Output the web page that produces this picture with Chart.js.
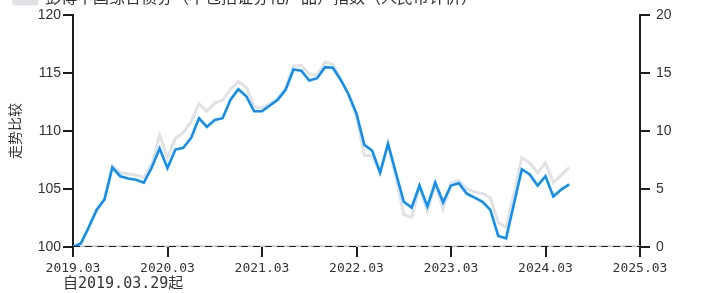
<!DOCTYPE html>
<html>
<head>
<meta charset="utf-8">
<script src="https://cdn.jsdelivr.net/npm/chart.js@4"></script>
<style>
  html, body { margin: 0; padding: 0; background: #fff; overflow: hidden; }
  #wrap { position: relative; width: 702px; height: 293px; overflow: hidden; }
  #wrap canvas { position: absolute; left: 0; top: -25px; }
</style>
</head>
<body>
<div id="wrap"><canvas id="trendChart" width="702" height="318"></canvas></div>
<script>
// monthly points, month 0 = 2019.03.29
const fundValues = [
  100, 100.3, 101.7, 103.2, 104.1, 106.85, 106.1, 105.9, 105.8, 105.55,
  106.85, 108.5, 106.8, 108.4, 108.55, 109.4, 111.1, 110.35, 110.95, 111.1,
  112.7, 113.6, 113.0, 111.7, 111.7, 112.2, 112.7, 113.55, 115.3, 115.2,
  114.35, 114.55, 115.5, 115.45, 114.4, 113.15, 111.5, 108.8, 108.3, 106.4,
  108.9, 106.4, 103.9, 103.4, 105.3, 103.5, 105.55, 103.85, 105.3, 105.5,
  104.6, 104.25, 103.9, 103.2, 100.95, 100.75, 103.75, 106.7, 106.25, 105.3,
  106.1, 104.35, 104.95, 105.4
];
const indexValues = [
  100, 100.3, 101.7, 103.2, 104.2, 107.0, 106.4, 106.3, 106.2, 106.0,
  107.15, 109.65, 107.7, 109.35, 109.85, 110.8, 112.35, 111.7, 112.4, 112.65,
  113.6, 114.25, 113.75, 112.1, 111.95, 112.35, 112.8, 113.75, 115.6, 115.65,
  114.9, 114.8, 115.95, 115.75, 114.45, 113.05, 111.2, 107.9, 107.85, 106.4,
  108.9, 106.0, 102.8, 102.55, 105.15, 103.1, 105.4, 103.3, 105.5, 105.75,
  105.0, 104.75, 104.6, 104.25, 102.1, 101.7, 104.6, 107.7, 107.25, 106.4,
  107.25, 105.55, 106.2, 106.85
];
const xTickLabels = ['2019.03', '2020.03', '2021.03', '2022.03', '2023.03', '2024.03', '2025.03'];
const leftTicks = [100, 105, 110, 115, 120];
const rightTicks = [0, 5, 10, 15, 20];
const fundName = '本基金';
const indexName = '彭博中国综合债券（不包括证券化产品）指数（人民币计价）';
const yTitle = '走势比较';
const footNote = '自2019.03.29起';
const baseValue = 100;
const monthsSpan = (xTickLabels.length - 1) * 12;

const toPoints = arr => arr.map((v, i) => ({ x: i, y: v }));
const ink = '#1e1e1e';
const monoFont = { family: "'DejaVu Sans Mono', monospace", size: 13 };
const numFont = { family: "'Liberation Sans', Arial, sans-serif", size: 14 };

const footNotePlugin = {
  id: 'footNote',
  afterDraw(chart) {
    const ctx = chart.ctx;
    ctx.save();
    ctx.font = "15px 'DejaVu Sans Mono', 'Noto Sans CJK SC', monospace";
    ctx.fillStyle = '#333';
    ctx.textBaseline = 'bottom';
    ctx.fillText(footNote, chart.chartArea.left - 10, chart.height - 1);
    ctx.restore();
  }
};

new Chart(document.getElementById('trendChart'), {
  type: 'line',
  data: {
    datasets: [
      {
        label: fundName,
        data: toPoints(fundValues),
        borderColor: '#0f90f0',
        borderWidth: 2.6,
        pointRadius: 0,
        order: 1
      },
      {
        label: indexName,
        data: toPoints(indexValues),
        borderColor: '#e2e2e6',
        backgroundColor: '#e2e2e6',
        borderWidth: 3,
        pointRadius: 0,
        order: 2
      },
      {
        label: 'base',
        data: [{ x: 0, y: baseValue }, { x: monthsSpan, y: baseValue }],
        borderColor: '#c4c4c8',
        borderWidth: 3,
        pointRadius: 0,
        order: 3
      },
      {
        label: 'baseDash',
        data: [{ x: 0, y: baseValue }, { x: monthsSpan, y: baseValue }],
        borderColor: ink,
        borderWidth: 2,
        borderDash: [7, 5],
        pointRadius: 0,
        order: 0
      }
    ]
  },
  options: {
    responsive: false,
    animation: false,
    layout: { padding: { top: 0, bottom: 0, left: 0, right: 0 } },
    plugins: {
      tooltip: { enabled: false },
      legend: {
        position: 'top',
        align: 'start',
        labels: {
          filter: item => item.datasetIndex === 1,
          boxWidth: 23,
          boxHeight: 14,
          color: '#333',
          font: { family: "'Noto Sans CJK SC', sans-serif", size: 16 },
          padding: 14
        }
      }
    },
    scales: {
      x: {
        type: 'linear',
        min: 0,
        max: monthsSpan,
        afterFit: s => { s.height = 46; },
        afterBuildTicks: s => { s.ticks = xTickLabels.map((_, i) => ({ value: i * 12 })); },
        ticks: {
          color: '#333',
          font: monoFont,
          padding: 4,
          maxRotation: 0,
          callback: v => xTickLabels[v / 12]
        },
        grid: { drawOnChartArea: false, color: ink, lineWidth: 2, tickLength: 10 },
        border: { display: false }
      },
      y: {
        position: 'left',
        min: leftTicks[0],
        max: leftTicks[leftTicks.length - 1],
        afterFit: s => { s.width = 73; },
        afterBuildTicks: s => { s.ticks = leftTicks.map(v => ({ value: v })); },
        ticks: { color: '#333', font: numFont, padding: 2 },
        grid: { drawOnChartArea: false, color: ink, lineWidth: 2, tickLength: 10 },
        border: { display: true, color: ink, width: 2 },
        title: {
          display: true,
          text: yTitle,
          color: '#333',
          font: { family: "'Noto Sans CJK SC', sans-serif", size: 14 },
          padding: { top: 6, bottom: 0 }
        }
      },
      y2: {
        position: 'right',
        min: rightTicks[0],
        max: rightTicks[rightTicks.length - 1],
        afterFit: s => { s.width = 62; },
        afterBuildTicks: s => { s.ticks = rightTicks.map(v => ({ value: v })); },
        ticks: { color: '#333', font: numFont, padding: 6 },
        grid: { drawOnChartArea: false, color: ink, lineWidth: 2, tickLength: 10 },
        border: { display: true, color: ink, width: 2 }
      }
    }
  },
  plugins: [footNotePlugin]
});
</script>
</body>
</html>
